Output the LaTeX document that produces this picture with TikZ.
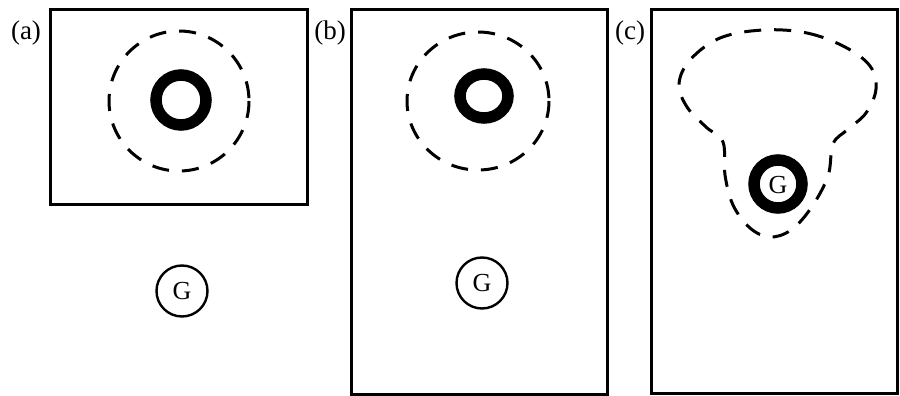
\documentclass[tikz,border=0pt]{standalone}
\usepackage{fontspec}
\setmainfont{Liberation Serif}
\begin{document}
\begin{tikzpicture}[x=1pt,y=-1pt,
  panel/.style={draw,line width=3pt},
  tag/.style={inner sep=0pt,font=\fontsize{27}{30}\selectfont},
  dashring/.style={draw,line width=3pt,dash pattern=on 17pt off 13pt},
  thickring/.style={draw,line width=11.5pt},
  gcirc/.style={circle,draw,line width=2.4pt,minimum size=51pt,inner sep=0pt,
    font=\fontsize{26}{28}\selectfont},
  gbare/.style={inner sep=0pt,font=\fontsize{26}{28}\selectfont}]
\useasboundingbox (0,0) rectangle (900,396);

% panel frames
\draw[panel] (50,10) rectangle (307,204);
\draw[panel] (351,10) rectangle (607,394);
\draw[panel] (651,10) rectangle (897,393);

% panel tags
\node[tag] (la) at (26,33) {(a)};
\node[tag] (lb) at (330,33) {(b)};
\node[tag] (lc) at (630,33) {(c)};

% (a): source ring, dashed boundary, G outside the frame
\draw[dashring] (179,101) circle (70);
\draw[thickring] (181,100) circle (25);
\node[gcirc] (ga) at (182,291) {G};

% (b): same ring, G inside the enlarged frame
\draw[dashring] (478,101) ellipse (71 and 69);
\draw[thickring] (484,96) ellipse (24 and 22);
\node[gcirc] (gb) at (482,283) {G};

% (c): distorted boundary enclosing the ring around G
\draw[dashring] plot[smooth cycle,tension=0.6] coordinates {
  (763,30) (807,33) (845,47) (870,66) (876,89) (866,113) (847,130)
  (833,144) (828,176) (811,208) (791,230) (770,237) (750,228)
  (733,205) (725,175) (723,142) (706,127) (687,107) (679,84)
  (690,60) (720,38)};
\draw[thickring] (778,184) circle (24);
\node[gbare] (gc) at (778,185) {G};
\end{tikzpicture}
\end{document}
